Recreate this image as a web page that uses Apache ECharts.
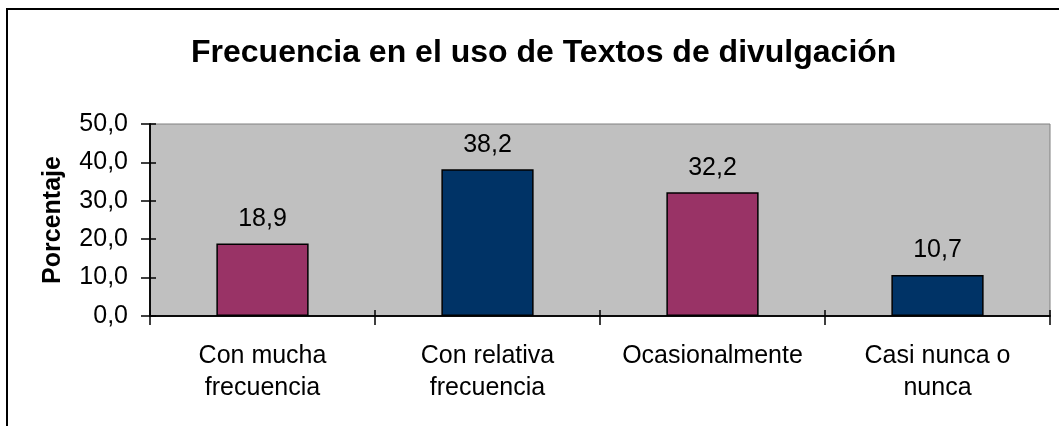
<!DOCTYPE html>
<html>
<head>
<meta charset="utf-8">
<script src="https://cdn.jsdelivr.net/npm/echarts@6/dist/echarts.min.js"></script>
<style>
  html, body { margin: 0; padding: 0; background: #fff; }
  #chart { width: 1059px; height: 426px; }
</style>
</head>
<body>
<div id="chart"></div>
<script>
// datos
var categorias = ['Con mucha\nfrecuencia', 'Con relativa\nfrecuencia', 'Ocasionalmente', 'Casi nunca o\nnunca'];
var porcentajes = [18.9, 38.2, 32.2, 10.7];
var colores = ['#993366', '#003366', '#993366', '#003366'];
var ticksY = [0, 10, 20, 30, 40, 50];

var fuente = 'Liberation Sans, Arial, sans-serif';

function coma(v) {
  return Number(v).toFixed(1).replace('.', ',');
}

var chart = echarts.init(document.getElementById('chart'));

// eje extra solo para las marcas que cruzan hacia dentro
var marcaDentro = { show: true, interval: 0, inside: true, length: 6, lineStyle: { color: '#000', width: 1.5 } };

var option = {
  animation: false,
  backgroundColor: '#fff',
  title: {
    text: 'Frecuencia en el uso de Textos de divulgación',
    left: 186,
    top: 32,
    textStyle: { fontFamily: fuente, fontSize: 32, fontWeight: 'bold', color: '#000' }
  },
  graphic: [
    {
      type: 'rect',
      shape: { x: 7, y: 9, width: 1200, height: 600 },
      style: { fill: null, stroke: '#000', lineWidth: 2 },
      silent: true
    }
  ],
  grid: {
    left: 150, top: 124, right: 9, bottom: 110,
    show: true, backgroundColor: '#c0c0c0', borderColor: '#808080', borderWidth: 1
  },
  xAxis: [
    {
      type: 'category',
      data: categorias,
      axisLine: { show: true, lineStyle: { color: '#000', width: 1.5 } },
      axisTick: { show: true, interval: 0, length: 9, lineStyle: { color: '#000', width: 1.5 } },
      axisLabel: {
        fontFamily: fuente, fontSize: 25, color: '#000',
        lineHeight: 32, margin: 24, interval: 0
      }
    },
    {
      type: 'category',
      data: categorias,
      position: 'bottom',
      offset: 0,
      axisLine: { show: true, lineStyle: { color: '#000', width: 1.5 } },
      axisTick: marcaDentro,
      axisLabel: { show: false }
    }
  ],
  yAxis: [
    {
      type: 'value',
      min: ticksY[0],
      max: ticksY[ticksY.length - 1],
      interval: 10,
      name: 'Porcentaje',
      nameLocation: 'middle',
      nameGap: 84,
      nameTextStyle: { fontFamily: fuente, fontSize: 25, fontWeight: 'bold', color: '#000' },
      axisLine: { show: true, lineStyle: { color: '#000', width: 1.5 } },
      axisTick: { show: true, length: 9, lineStyle: { color: '#000', width: 1.5 } },
      axisLabel: { fontFamily: fuente, fontSize: 25, color: '#000', margin: 22, formatter: coma },
      splitLine: { show: false }
    },
    {
      type: 'value',
      position: 'left',
      offset: 0,
      min: ticksY[0],
      max: ticksY[ticksY.length - 1],
      interval: 10,
      axisLine: { show: true, lineStyle: { color: '#000', width: 1.5 } },
      axisTick: marcaDentro,
      axisLabel: { show: false },
      splitLine: { show: false }
    }
  ],
  series: [
    {
      type: 'bar',
      barWidth: '41%',
      data: porcentajes.map(function (v, i) {
        return { value: v, itemStyle: { color: colores[i] } };
      }),
      itemStyle: { borderColor: '#000', borderWidth: 1.5 },
      label: {
        show: true,
        position: 'top',
        distance: 12,
        fontFamily: fuente,
        fontSize: 25,
        color: '#000',
        formatter: function (p) { return coma(p.value); }
      }
    },
    {
      // serie vacia para que se dibujen los ejes secundarios
      type: 'bar',
      xAxisIndex: 1,
      yAxisIndex: 1,
      data: [],
      silent: true
    }
  ]
};

chart.setOption(option);
</script>
</body>
</html>
